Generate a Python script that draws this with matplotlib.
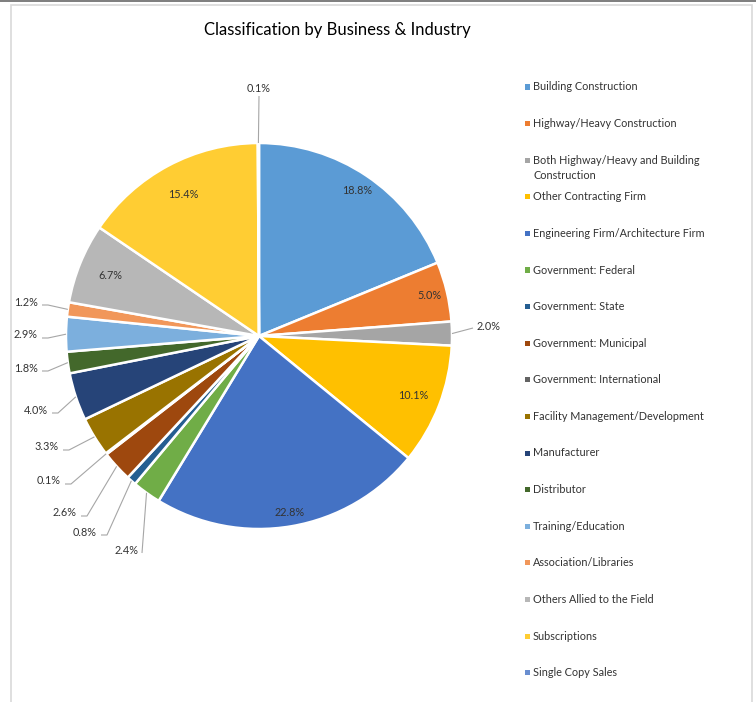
import numpy as np
import matplotlib
matplotlib.use("Agg")
import matplotlib.pyplot as plt
from matplotlib.patches import Rectangle

plt.rcParams['font.family'] = ['Lato', 'DejaVu Sans']

# ---------------- data ----------------
categories = [
    "Building Construction",
    "Highway/Heavy Construction",
    "Both Highway/Heavy and Building\nConstruction",
    "Other Contracting Firm",
    "Engineering Firm/Architecture Firm",
    "Government: Federal",
    "Government: State",
    "Government: Municipal",
    "Government: International",
    "Facility Management/Development",
    "Manufacturer",
    "Distributor",
    "Training/Education",
    "Association/Libraries",
    "Others Allied to the Field",
    "Subscriptions",
    "Single Copy Sales",
]
values = [18.8, 5.0, 2.0, 10.1, 22.8, 2.4, 0.8, 2.6, 0.1, 3.3, 4.0, 1.8, 2.9, 1.2, 6.7, 15.4, 0.1]
labels = ["18.8%", "5.0%", "2.0%", "10.1%", "22.8%", "2.4%", "0.8%", "2.6%", "0.1%",
          "3.3%", "4.0%", "1.8%", "2.9%", "1.2%", "6.7%", "15.4%", "0.1%"]

colors = ["#5B9BD5", "#ED7D31", "#A5A5A5", "#FFC000", "#4472C4", "#70AD47",
          "#255E91", "#9E480E", "#636363", "#997300", "#264478", "#43682B",
          "#7CAFDD", "#F1975A", "#B7B7B7", "#FFCD33", "#698ED0"]

# ---------------- layout (pixel based, top-down y) ----------------
W, H = 756, 702
CX, CY, R = 259, 336, 193

# label placement: ('in', radius fraction) or ('out', text x, text y, ha, elbow)
placement = {
    0: ('in', 0.91), 1: ('in', 0.91), 3: ('in', 0.855), 4: ('in', 0.93),
    14: ('in', 0.83), 15: ('in', 0.83),
    2: ('out', 477, 327, 'left', False),
    5: ('out', 139, 551, 'right', False),
    6: ('out', 97, 532, 'right', True),
    7: ('out', 77, 513, 'right', True),
    8: ('out', 61, 481, 'right', True),
    9: ('out', 59, 447, 'right', True),
    10: ('out', 48, 410, 'right', True),
    11: ('out', 38, 368, 'right', True),
    12: ('out', 38, 335, 'right', True),
    13: ('out', 38, 302, 'right', True),
    16: ('out', 259, 88, 'center', False),
}

fig = plt.figure(figsize=(W / 100, H / 100), dpi=100)
ax = fig.add_axes([0, 0, 1, 1])

def fy(y):
    return H - y

ax.pie(values, colors=colors, startangle=90, counterclock=False,
       center=(CX, fy(CY)), radius=R,
       wedgeprops=dict(edgecolor='white', linewidth=1.8))
ax.set_xlim(0, W)
ax.set_ylim(0, H)
ax.set_aspect('equal')
ax.axis('off')

# frame
fig.patches.append(Rectangle((11 / W, -0.01), (752 - 11) / W, (H - 5) / H + 0.01,
                             transform=fig.transFigure, fill=False,
                             edgecolor='#D9D9D9', linewidth=1.2))
fig.patches.append(Rectangle((0, 1 - 2 / H), 1, 2 / H, transform=fig.transFigure,
                             facecolor='#808080', edgecolor='none'))

# title
fig.text(337 / W, 1 - 30 / H, "Classification by Business & Industry",
         ha='center', va='center', fontsize=12, color='#000000')

# data labels
total = float(sum(values))
cum = 0.0
line_col = '#A6A6A6'
txt_col = '#333333'
for i, v in enumerate(values):
    mid = (cum + v / 2) / total * 2 * np.pi
    cum += v
    dx, dy = np.sin(mid), np.cos(mid)
    p = placement[i]
    if p[0] == 'in':
        r = p[1] * R
        ax.text(CX + dx * r, fy(CY) + dy * r, labels[i], ha='center', va='center',
                fontsize=7.8, color=txt_col)
    else:
        _, tx, ty, ha, elbow = p
        ex, ey = CX + dx * R, fy(CY) + dy * R
        ax.text(tx, fy(ty), labels[i], ha=ha, va='center', fontsize=7.8, color=txt_col)
        if ha == 'right':
            if elbow:
                xs = [tx + 4, tx + 10, ex]
                ys = [fy(ty + 3), fy(ty + 3), ey]
            else:
                xs = [tx + 3, ex]
                ys = [fy(ty + 2), ey]
        elif ha == 'left':
            xs = [tx - 4, ex]
            ys = [fy(ty + 1), ey]
        else:
            xs = [tx, ex]
            ys = [fy(ty + 8), ey]
        ax.plot(xs, ys, color=line_col, linewidth=0.8, solid_capstyle='butt')

# legend (drawn manually to match spacing)
for i, (cat, col) in enumerate(zip(categories, colors)):
    y = 87 + 36.6 * i
    fig.patches.append(Rectangle((524.5 / W, 1 - (y + 2.5) / H), 5 / W, 5 / H,
                                 transform=fig.transFigure, facecolor=col, edgecolor='none'))
    for j, line in enumerate(cat.split("\n")):
        fig.text(533 / W, 1 - (y + 15 * j) / H, line, ha='left', va='center',
                 fontsize=7.8, color=txt_col)

fig.savefig("out.png", dpi=100)
